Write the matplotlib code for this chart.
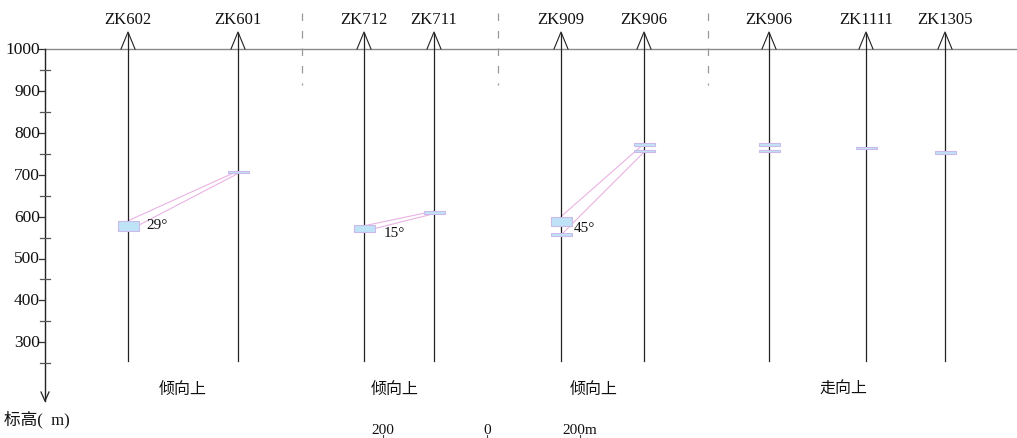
import matplotlib
matplotlib.use("Agg")
import matplotlib.pyplot as plt

plt.rcParams['font.family'] = ['Liberation Serif', 'Noto Sans CJK SC', 'DejaVu Sans']

# ---- data ----
holes = ["ZK602", "ZK601", "ZK712", "ZK711", "ZK909", "ZK906", "ZK906", "ZK1111", "ZK1305"]
hole_x = [128, 238, 364, 434, 561, 644, 769, 866, 945]
# ore intervals per hole: (top, bottom) elevation in m
ore_intervals = [
    [(590, 566)],
    [(709, 703)],
    [(580, 563)],
    [(613, 607)],
    [(600, 577), (561, 554)],
    [(775, 769), (759, 753)],
    [(775, 769), (759, 753)],
    [(767, 762)],
    [(756, 750)],
]
# connecting lines between holes: (x0, y0, x1, y1)
link_lines = [
    (128, 590, 238, 709), (128, 566, 238, 703),
    (364, 578, 434, 613), (364, 565, 434, 607),
    (561, 600, 644, 774), (561, 556, 644, 754),
]
angle_labels = ["29°", "15°", "45°"]
angle_pos = [(146, 580), (384, 563), (574, 573)]
section_labels = ["倾向上", "倾向上", "倾向上", "走向上"]
section_x = [183, 395, 594, 843]
separators_x = [302, 498, 708]
yticks_major = [1000, 900, 800, 700, 600, 500, 400, 300]
yticks_minor = [950, 850, 750, 650, 550, 450, 350, 250]
scale_labels = ["200", "0", "200m"]
scale_x = [383, 487, 580]

# ---- figure ----
W, H = 1017, 439
fig = plt.figure(figsize=(W / 100, H / 100), dpi=100)
ax = fig.add_axes([0, 0, 1, 1])
ax.set_axis_off()
k = 0.419  # px per metre
ax.set_xlim(0, W)
ax.set_ylim(1000 - (H - 50) / k, 1000 + 50 / k)

def px(p):  # pixel offset -> metres
    return p / k

axis_x = 45
# horizontal reference line at 1000
ax.plot([axis_x, W], [1000, 1000], color="#8a8a8a", lw=1.0, zorder=2)
# vertical elevation axis with arrow
y_bottom = 1000 - px(352)
ax.plot([axis_x, axis_x], [1000, y_bottom], color="#222222", lw=1.0)
ax.plot([axis_x - 4, axis_x, axis_x + 4], [y_bottom + px(9), y_bottom, y_bottom + px(9)],
        color="#222222", lw=0.9)
for v in yticks_major:
    ax.plot([axis_x - 6, axis_x], [v, v], color="#333333", lw=0.9)
    ax.text(axis_x - 5, v, str(v), ha="right", va="center", fontsize=12.5, color="#111111")
for v in yticks_minor:
    ax.plot([axis_x - 5, axis_x + 5], [v, v], color="#555555", lw=0.9)
ax.text(4, 1000 - px(370), "标高(  m)", ha="left", va="center", fontsize=12, color="#111111")

# boreholes
for name, x in zip(holes, hole_x):
    ax.plot([x, x], [255, 1000 + px(16)], color="#222222", lw=0.9, zorder=3)
    ax.plot([x - 7, x, x + 7], [1000, 1000 + px(17), 1000], color="#222222", lw=0.8, zorder=3)
    ax.text(x, 1000 + px(30), name, ha="center", va="center", fontsize=12, color="#111111")

# separators
for x in separators_x:
    ax.plot([x, x], [1000 + px(36), 1000 - px(36)], color="#999999", lw=0.9,
            linestyle=(0, (6, 8)))

# link lines
for x0, y0, x1, y1 in link_lines:
    ax.plot([x0, x1], [y0, y1], color="#eab2e4", lw=0.8, zorder=2)

# ore bodies
for x, ivs in zip(hole_x, ore_intervals):
    for top, bot in ivs:
        r = plt.Rectangle((x - 10.5, bot), 21, top - bot, facecolor="#bfe3f6",
                          edgecolor="#cbb9ea", lw=0.8, zorder=4)
        ax.add_patch(r)

for t, (x, y) in zip(angle_labels, angle_pos):
    ax.text(x, y, t, ha="left", va="center", fontsize=11, color="#111111", zorder=5)

for t, x in zip(section_labels, section_x):
    ax.text(x, 1000 - px(340), t, ha="center", va="center", fontsize=11.5, color="#111111")

for t, x in zip(scale_labels, scale_x):
    ax.text(x, 1000 - px(381), t, ha="center", va="center", fontsize=11, color="#111111")
    ax.plot([x, x], [1000 - px(386), 1000 - px(389)], color="#444444", lw=0.8)

fig.savefig("out.png", dpi=100, facecolor="white")
